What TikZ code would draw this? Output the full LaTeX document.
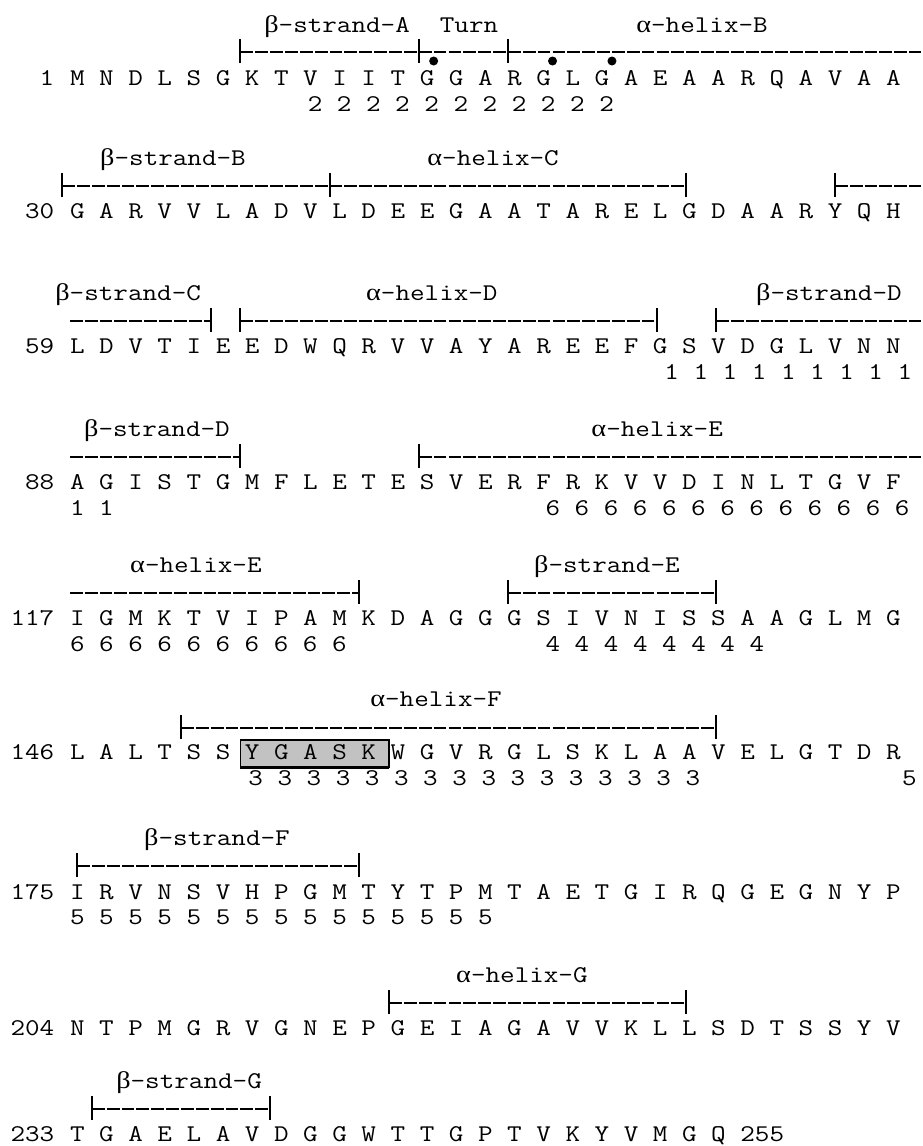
\documentclass[tikz,border=0pt]{standalone}
\usepackage{fontspec}
\newfontfamily\greekfont{Liberation Serif}
\definecolor{BoxClr}{rgb}{0.76,0.76,0.76}
\newcommand\Bt{{\greekfont β}}
\newcommand\Al{{\greekfont α}}

\begin{document}
\begin{tikzpicture}[x=14.86pt,y=-0.5pt,
  every node/.style={inner sep=0pt,font=\ttfamily\fontsize{12}{14}\selectfont,
    xscale=1.179,transform shape},
  resid/.style={anchor=base west},
  rownum/.style={anchor=base east},
  hits/.style={anchor=base west},
  sslabel/.style={anchor=base},
  ssbar/.style={line width=1pt,dash pattern=on 6.4pt off 1.03pt},
  pics/sstick/.style={code={\draw[line width=1pt] (0,6.5pt) -- (0,-5.5pt);}}]

\useasboundingbox (-2.591,0) rectangle (28.432,1146);

% 1
\node[sslabel] (strandA) at (8.75,32) {\Bt\textendash strand\textendash A};
\node[sslabel] (turn) at (13.19,32) {Turn};
\node[sslabel] (helixB) at (21.03,32) {\Al\textendash helix\textendash B};
\draw[ssbar] (5.5,52) -- (28.4,52);
\pic at (5.5,52) {sstick}; \pic at (11.5,52) {sstick}; \pic at (14.5,52) {sstick};
\fill (12,61) circle[radius=2.25pt] (16,61) circle[radius=2.25pt] (18,61) circle[radius=2.25pt];
\node[rownum] (n1) at (-0.75,85) {1};
\node[resid] (r1) at (-0.25,85) {M N D L S G K T V I I T G G A R G L G A E A A R Q A V A A};
\node[hits] (c1) at (7.75,111) {2 2 2 2 2 2 2 2 2 2 2};

% 30
\node[sslabel] (strandB) at (3.23,165) {\Bt\textendash strand\textendash B};
\node[sslabel] (helixC) at (14,165) {\Al\textendash helix\textendash C};
\draw[ssbar] (-0.5,186) -- (20.5,186);
\draw[ssbar] (25.5,186) -- (28.4,186);
\pic at (-0.5,186) {sstick}; \pic at (8.5,186) {sstick}; \pic at (20.5,186) {sstick};
\pic at (25.5,186) {sstick};
\node[rownum] (n30) at (-0.75,218) {30};
\node[resid] (r30) at (-0.25,218) {G A R V V L A D V L D E E G A A T A R E L G D A A R Y Q H};

% 59
\node[sslabel] (strandC) at (1.72,300) {\Bt\textendash strand\textendash C};
\node[sslabel] (helixD) at (11.94,300) {\Al\textendash helix\textendash D};
\node[sslabel] (strandDa) at (25.3,300) {\Bt\textendash strand\textendash D};
\draw[ssbar] (-0.24,321) -- (4.5,321);
\draw[ssbar] (5.5,321) -- (19.5,321);
\draw[ssbar] (21.5,321) -- (28.4,321);
\pic at (4.5,321) {sstick}; \pic at (5.5,321) {sstick}; \pic at (19.5,321) {sstick};
\pic at (21.5,321) {sstick};
\node[rownum] (n59) at (-0.75,353) {59};
\node[resid] (r59) at (-0.25,353) {L D V T I E E D W Q R V V A Y A R E E F G S V D G L V N N};
\node[hits] (c59) at (19.75,379) {1 1 1 1 1 1 1 1 1};

% 88
\node[sslabel] (strandDb) at (2.69,436) {\Bt\textendash strand\textendash D};
\node[sslabel] (helixEa) at (19.52,436) {\Al\textendash helix\textendash E};
\draw[ssbar] (-0.24,457) -- (5.5,457);
\draw[ssbar] (11.5,457) -- (28.4,457);
\pic at (5.5,457) {sstick}; \pic at (11.5,457) {sstick};
\node[rownum] (n88) at (-0.75,489) {88};
\node[resid] (r88) at (-0.25,489) {A G I S T G M F L E T E S V E R F R K V V D I N L T G V F};
\node[hits] (c88a) at (-0.25,515) {1 1};
\node[hits] (c88b) at (15.75,515) {6 6 6 6 6 6 6 6 6 6 6 6 6};

% 117
\node[sslabel] (helixEb) at (4,572) {\Al\textendash helix\textendash E};
\node[sslabel] (strandE) at (17.83,572) {\Bt\textendash strand\textendash E};
\draw[ssbar] (-0.24,593) -- (9.5,593);
\draw[ssbar] (14.5,593) -- (21.5,593);
\pic at (9.5,593) {sstick}; \pic at (14.5,593) {sstick}; \pic at (21.5,593) {sstick};
\node[rownum] (n117) at (-0.75,625) {117};
\node[resid] (r117) at (-0.25,625) {I G M K T V I P A M K D A G G G S I V N I S S A A G L M G};
\node[hits] (c117a) at (-0.25,651) {6 6 6 6 6 6 6 6 6 6};
\node[hits] (c117b) at (15.75,651) {4 4 4 4 4 4 4 4};

% 146
\node[sslabel] (helixF) at (12.08,706) {\Al\textendash helix\textendash F};
\draw[ssbar] (3.5,728) -- (21.5,728);
\pic at (3.5,728) {sstick}; \pic at (21.5,728) {sstick};
\filldraw[fill=BoxClr,line width=0.75pt] (5.5,740) rectangle (10.5,767);
\draw[line width=1.5pt] (5.5,767) -- (10.5,767);
\node[rownum] (n146) at (-0.75,759) {146};
\node[resid] (r146) at (-0.25,759) {L A L T S S Y G A S K W G V R G L S K L A A V E L G T D R};
\node[hits] (c146a) at (5.75,785) {3 3 3 3 3 3 3 3 3 3 3 3 3 3 3 3};
\node[hits] (c146b) at (27.75,785) {5};

% 175
\node[sslabel] (strandF) at (4.71,845) {\Bt\textendash strand\textendash F};
\draw[ssbar] (0,866) -- (9.5,866);
\pic at (0,866) {sstick}; \pic at (9.5,866) {sstick};
\node[rownum] (n175) at (-0.75,899) {175};
\node[resid] (r175) at (-0.25,899) {I R V N S V H P G M T Y T P M T A E T G I R Q G E G N Y P};
\node[hits] (c175) at (-0.25,924) {5 5 5 5 5 5 5 5 5 5 5 5 5 5 5};

% 204
\node[sslabel] (helixG) at (14.97,982) {\Al\textendash helix\textendash G};
\draw[ssbar] (10.5,1003) -- (20.5,1003);
\pic at (10.5,1003) {sstick}; \pic at (20.5,1003) {sstick};
\node[rownum] (n204) at (-0.75,1035) {204};
\node[resid] (r204) at (-0.25,1035) {N T P M G R V G N E P G E I A G A V V K L L S D T S S Y V};

% 233
\node[sslabel] (strandG) at (3.77,1088) {\Bt\textendash strand\textendash G};
\draw[ssbar] (0.5,1109) -- (6.5,1109);
\pic at (0.5,1109) {sstick}; \pic at (6.5,1109) {sstick};
\node[rownum] (n233) at (-0.75,1141) {233};
\node[resid] (r233) at (-0.25,1141) {T G A E L A V D G G W T T G P T V K Y V M G Q 255};

\end{tikzpicture}
\end{document}
